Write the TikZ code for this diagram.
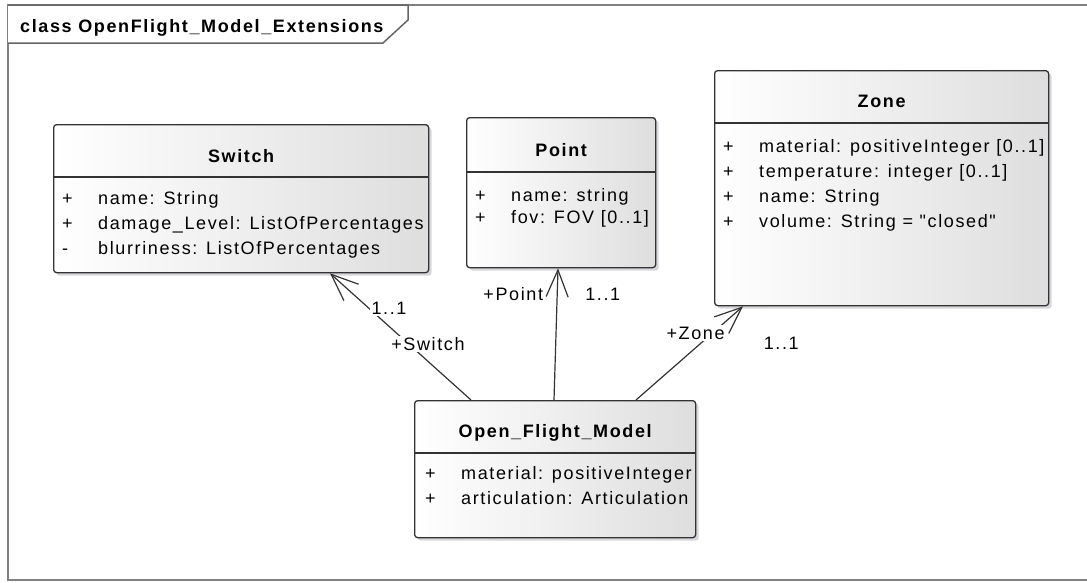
\documentclass[tikz,border=0pt]{standalone}
\usepackage{fontspec}
\setmainfont{Liberation Sans}[LetterSpace=9]
\newfontfamily\plainquote{Liberation Sans}[LetterSpace=9]
\usetikzlibrary{arrows.meta,shadows}

\begin{document}
\begin{tikzpicture}[x=1pt,y=-1pt,
    classbox/.style={draw=black!80,line width=1.3pt,rounded corners=3pt,
      left color=white,right color=black!13,anchor=north west,inner sep=0pt,
      drop shadow={shadow xshift=3pt,shadow yshift=-3pt,fill=blue!20!black!40,opacity=0.4}},
    classname/.style={font=\fontsize{18}{22}\selectfont\bfseries,inner sep=0pt,anchor=base},
    attrs/.style={font=\fontsize{18}{25}\selectfont,align=left,anchor=north west,inner sep=0pt},
    sepline/.style={draw=black!80,line width=1.3pt},
    assoc/.style={draw=black!80,line width=1.2pt,-{Straight Barb[length=27pt,width=22pt]}},
    role/.style={font=\fontsize{18}{22}\selectfont,fill=white,inner sep=1.5pt}]
  \useasboundingbox (0,0) rectangle (1087,582);
  \clip (0,0) rectangle (1087,582);
  \draw[black!50,line width=2pt] (8,5) rectangle (1100,580);
  \draw[black!60,line width=1.5pt,fill=white] (8,5) -- (408,5) -- (408,20) -- (383,43) -- (8,43);
  \node[font=\fontsize{18}{22}\selectfont\bfseries,inner sep=0pt,anchor=base west] (frametitle) at (20,32) {class OpenFlight\_Model\_Extensions};

  \node[classbox,minimum width=375pt,minimum height=148pt] (switch) at (53,124) {};
  \node[classname] (switchname) at ([yshift=-38pt]switch.north) {Switch};
  \draw[sepline] ([yshift=-53pt]switch.north west) -- ([yshift=-53pt]switch.north east);
  \node[attrs] (switchattrs) at ([xshift=9pt,yshift=-67pt]switch.north west)
    {\makebox[36pt][l]{+}name: String\\
     \makebox[36pt][l]{+}damage\_Level: ListOfPercentages\\
     \makebox[36pt][l]{-}blurriness: ListOfPercentages};

  \node[classbox,minimum width=189pt,minimum height=150pt] (point) at (466,117) {};
  \node[classname] (pointname) at ([yshift=-39pt]point.north) {Point};
  \draw[sepline] ([yshift=-55pt]point.north west) -- ([yshift=-55pt]point.north east);
  \node[attrs] (pointattrs) at ([xshift=9pt,yshift=-71pt]point.north west)
    {\makebox[36pt][l]{+}name: string\\[-3pt]
     \makebox[36pt][l]{+}fov: FOV [0..1]};

  \node[classbox,minimum width=334pt,minimum height=235pt] (zone) at (714,70) {};
  \node[classname] (zonename) at ([yshift=-37pt]zone.north) {Zone};
  \draw[sepline] ([yshift=-53pt]zone.north west) -- ([yshift=-53pt]zone.north east);
  \node[attrs] (zoneattrs) at ([xshift=9pt,yshift=-69pt]zone.north west)
    {\makebox[36pt][l]{+}material: positiveInteger [0..1]\\
     \makebox[36pt][l]{+}temperature: integer [0..1]\\
     \makebox[36pt][l]{+}name: String\\
     \makebox[36pt][l]{+}volume: String = {\plainquote"closed"}};

  \node[classbox,minimum width=281pt,minimum height=137pt] (ofm) at (414,400) {};
  \node[classname] (ofmname) at ([yshift=-37pt]ofm.north) {Open\_Flight\_Model};
  \draw[sepline] ([yshift=-53pt]ofm.north west) -- ([yshift=-53pt]ofm.north east);
  \node[attrs] (ofmattrs) at ([xshift=11pt,yshift=-66pt]ofm.north west)
    {\makebox[36pt][l]{+}material: positiveInteger\\
     \makebox[36pt][l]{+}articulation: Articulation};

  \draw[assoc] ([xshift=57pt]ofm.north west) --
    node[role,pos=0.44,xshift=19pt] (switchrole) {+Switch}
    node[role,pos=0.72,anchor=west] (switchmult) {1..1}
    ([xshift=277pt]switch.south west);
  \draw[assoc] ([xshift=140pt]ofm.north west) --
    node[role,pos=0.805,anchor=east,xshift=-12pt] (pointrole) {+Point}
    node[role,pos=0.805,anchor=west,xshift=26pt] (pointmult) {1..1}
    ([xshift=92pt]point.south west);
  \draw[assoc] ([xshift=222pt]ofm.north west) --
    node[role,pos=0.716,xshift=-17pt] (zonerole) {+Zone}
    node[role,pos=0.6,xshift=81pt] (zonemult) {1..1}
    ([xshift=29pt]zone.south west);
\end{tikzpicture}
\end{document}
